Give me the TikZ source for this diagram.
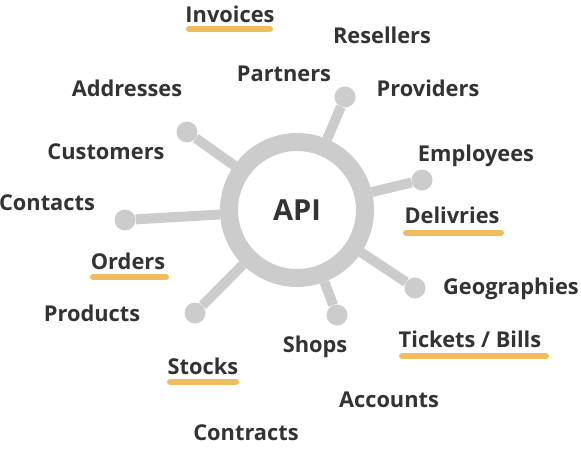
\documentclass[tikz,border=0pt]{standalone}
\usepackage{fontspec}
\setmainfont{Open Sans}
\usepackage{tikz}
\usetikzlibrary{positioning}

\definecolor{hubgray}{HTML}{CCCCCC}
\definecolor{txtgray}{HTML}{333333}
\definecolor{markyellow}{HTML}{EFBD5D}

\begin{document}
\begin{tikzpicture}[
    x=1pt, y=-1pt,
    hub/.style={circle, draw=hubgray, line width=18pt, fill=white,
                minimum size=136pt, inner sep=0pt, text=txtgray,
                font=\fontsize{29}{32}\selectfont\bfseries},
    knob/.style={circle, fill=hubgray, minimum size=21pt, inner sep=0pt},
    spoke/.style={draw=hubgray, line width=10pt},
    lbl/.style={text=txtgray, inner sep=0pt,
                font=\fontsize{21.8}{25}\selectfont\bfseries},
    underbar/.style={draw=markyellow, line width=6pt, line cap=round}
  ]
  \useasboundingbox (0,0) rectangle (581,448);

  % hub and spokes
  \node[hub] (api) at (297,210) {API};
  \node[knob] (k1) at (345,97)  {};
  \node[knob] (k2) at (187,132) {};
  \node[knob] (k3) at (422,180) {};
  \node[knob] (k4) at (125,220) {};
  \node[knob] (k5) at (415,288) {};
  \node[knob] (k6) at (337,315) {};
  \node[knob] (k7) at (195,313) {};
  \foreach \k in {k1,k2,k3,k4,k5,k6,k7}
    \draw[spoke] (api) -- (\k);

  % labels
  \node[lbl] (invoices)  at (230,14)  {Invoices};
  \node[lbl] (resellers) at (382,35)  {Resellers};
  \node[lbl] (partners)  at (284,74)  {Partners};
  \node[lbl] (providers) at (428,88)  {Providers};
  \node[lbl] (addresses) at (127,88)  {Addresses};
  \node[lbl] (customers) at (106,152) {Customers};
  \node[lbl] (employees) at (476,156) {Employees};
  \node[lbl] (contacts)  at (47,203)  {Contacts};
  \node[lbl] (delivries) at (452,215) {Delivries};
  \node[lbl] (orders)    at (128,261) {Orders};
  \node[lbl] (geos)      at (511,289) {Geographies};
  \node[lbl] (products)  at (92,313)  {Products};
  \node[lbl] (tickets)   at (470,339) {Tickets / Bills};
  \node[lbl] (shops)     at (315,347) {Shops};
  \node[lbl] (stocks)    at (203,366) {Stocks};
  \node[lbl] (accounts)  at (389,400) {Accounts};
  \node[lbl] (contracts) at (246,433) {Contracts};

  % underlines
  \draw[underbar] (189,29)  -- (270,29);
  \draw[underbar] (406,233) -- (501,233);
  \draw[underbar] (93,277)  -- (166,277);
  \draw[underbar] (402,356) -- (546,356);
  \draw[underbar] (170,382) -- (236,382);
\end{tikzpicture}
\end{document}
